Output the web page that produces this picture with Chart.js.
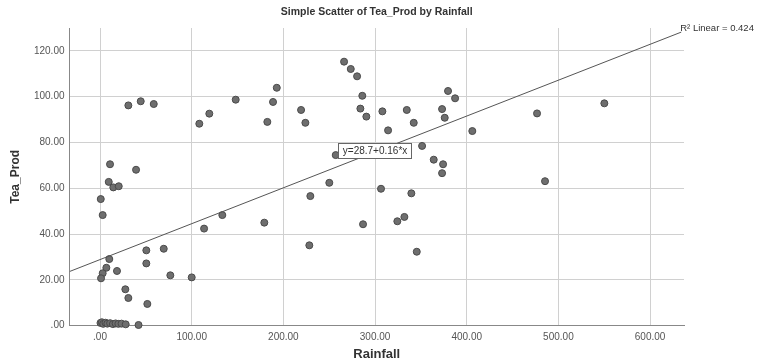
<!DOCTYPE html>
<html>
<head>
<meta charset="utf-8">
<title>Simple Scatter of Tea_Prod by Rainfall</title>
<script src="https://cdn.jsdelivr.net/npm/chart.js@4.4.1/dist/chart.umd.min.js"></script>
<style>
    html, body { margin: 0; padding: 0; background: #ffffff; }
    #wrap { width: 760px; height: 364px; }
</style>
</head>
<body>
<div id="wrap"><canvas id="scatterChart" width="760" height="364"></canvas></div>
<script>
// Data
const rainfall = [
    10.9, 39.3, 9.5, 14.5, 20.4, 0.8, 2.9, 133.4, 113.5, 50.5, 69.5, 10.1, 50.5, 6.9, 2.9, 1.1, 18.5, 76.7, 100, 27.6, 30.9, 51.6,
    30.9, 44.4, 58.6, 108.3, 119.2, 148, 182.5, 188.7, 192.8, 219.3, 224,
    266.2, 273.5, 280.4, 286.1, 284, 290.5, 308, 334.6, 342.2, 314.2, 379.6, 387.3, 373.1, 376, 406.1, 351.3, 257.1, 364, 374.2, 373.1,
    250.1, 229.4, 306.5, 339.6,
    179.2, 286.9, 324.3, 332, 228.3, 345.5,
    476.7, 550.1, 485.4,
    0.5, 2, 3.5, 6, 8, 11, 14, 17, 20, 23.5, 28, 42
];
const teaProd = [
    70.5, 68.1, 62.8, 60.4, 60.9, 55.3, 48.3, 48.3, 42.4, 32.9, 33.6, 29.1, 27.2, 25.3, 22.9, 20.7, 23.9, 22.0, 21.1, 15.9, 12.1, 9.5,
    96.2, 98.0, 96.8, 88.2, 92.6, 98.7, 89.0, 97.7, 103.9, 94.2, 88.6,
    115.3, 112.1, 108.9, 100.4, 94.8, 91.3, 93.6, 94.2, 88.6, 85.3, 102.5, 99.3, 94.6, 90.8, 85.0, 78.5, 74.5, 72.5, 70.5, 66.6,
    62.4, 56.6, 59.8, 57.8,
    45.0, 44.3, 45.6, 47.5, 35.1, 32.3,
    92.7, 97.1, 63.1,
    1.2, 1.5, 0.8, 1.3, 0.9, 1.1, 0.7, 1.0, 0.8, 0.9, 0.6, 0.3
];

// Fit line end points and labels
const fitX = [-33, 634];
const fitY = [23.7, 128.2];
const fitEquation = "y=28.7+0.16*x";
const fitEquationAt = [300, 76.5];
const rSquaredText = "R\u00B2 Linear = 0.424";

// Axis ticks
const xTicks = [0, 100, 200, 300, 400, 500, 600];
const yTicks = [0, 20, 40, 60, 80, 100, 120];

const chartTitle = "Simple Scatter of Tea_Prod by Rainfall";
const xTitle = "Rainfall";
const yTitle = "Tea_Prod";

const FONT = "'Liberation Sans', Arial, sans-serif";

function fmtTick(v) {
    return v === 0 ? ".00" : v.toFixed(2);
}

// Titles, equation box and R² label
const labelsPlugin = {
    id: "labelsPlugin",
    afterDatasetsDraw(chart) {
        const { ctx, scales: { x, y } } = chart;
        ctx.save();

        // equation box
        const cx = x.getPixelForValue(fitEquationAt[0]);
        const cy = y.getPixelForValue(fitEquationAt[1]);
        ctx.font = "10px " + FONT;
        const w = ctx.measureText(fitEquation).width + 9;
        const h = 15;
        ctx.fillStyle = "#ffffff";
        ctx.fillRect(Math.round(cx - w / 2) + 0.5, Math.round(cy - h / 2) + 0.5, Math.round(w), h);
        ctx.strokeStyle = "#666666";
        ctx.lineWidth = 1;
        ctx.strokeRect(Math.round(cx - w / 2) + 0.5, Math.round(cy - h / 2) + 0.5, Math.round(w), h);
        ctx.fillStyle = "#333333";
        ctx.textAlign = "center";
        ctx.textBaseline = "middle";
        ctx.fillText(fitEquation, cx, cy + 1);

        // R² label at end of fit line
        const ex = x.getPixelForValue(fitX[1]);
        const ey = y.getPixelForValue(fitY[1]);
        ctx.font = "9.5px " + FONT;
        ctx.textAlign = "left";
        ctx.fillText(rSquaredText, ex - 1, ey - 4);

        ctx.restore();
    },
    afterDraw(chart) {
        const { ctx, chartArea } = chart;
        const mid = (chartArea.left + chartArea.right) / 2;
        ctx.save();
        ctx.fillStyle = "#333333";
        ctx.textAlign = "center";
        ctx.textBaseline = "middle";

        ctx.font = "bold 10.5px " + FONT;
        ctx.fillText(chartTitle, mid, 12);

        ctx.font = "bold 13px " + FONT;
        ctx.fillText(xTitle, mid, 354);

        ctx.font = "bold 12px " + FONT;
        ctx.translate(16, (chartArea.top + chartArea.bottom) / 2);
        ctx.rotate(-Math.PI / 2);
        ctx.fillText(yTitle, 0, 0);
        ctx.restore();
    }
};

const points = rainfall.map((r, i) => ({ x: r, y: teaProd[i] }));
const fitLine = fitX.map((r, i) => ({ x: r, y: fitY[i] }));

new Chart(document.getElementById("scatterChart"), {
    type: "scatter",
    data: {
        datasets: [
            {
                type: "line",
                label: "Fit",
                data: fitLine,
                borderColor: "#555555",
                borderWidth: 1,
                pointRadius: 0,
                fill: false,
                order: 0
            },
            {
                label: "Tea_Prod",
                data: points,
                pointRadius: 3.5,
                pointHoverRadius: 3.5,
                pointBackgroundColor: "#6e6e6e",
                pointBorderColor: "#4a4a4a",
                pointBorderWidth: 1,
                clip: false,
                order: 1
            }
        ]
    },
    options: {
        responsive: false,
        animation: false,
        layout: { padding: { top: 28, right: 76, bottom: 0, left: 0 } },
        plugins: {
            legend: { display: false },
            tooltip: { enabled: false }
        },
        scales: {
            x: {
                type: "linear",
                min: -33.3,
                max: 637,
                afterBuildTicks: s => { s.ticks = xTicks.map(v => ({ value: v })); },
                afterFit: s => { s.height = 38.3; },
                ticks: {
                    callback: v => fmtTick(v),
                    font: { family: FONT, size: 10 },
                    color: "#555555",
                    padding: 6,
                    maxRotation: 0
                },
                grid: { color: "#d0d0d0", drawTicks: false },
                border: { color: "#888888" }
            },
            y: {
                type: "linear",
                min: 0,
                max: 130,
                afterBuildTicks: s => { s.ticks = yTicks.map(v => ({ value: v })); },
                afterFit: s => { s.width = 69.5; },
                ticks: {
                    callback: v => fmtTick(v),
                    font: { family: FONT, size: 10 },
                    color: "#555555",
                    padding: 5
                },
                grid: { color: "#d0d0d0", drawTicks: false },
                border: { color: "#888888" }
            }
        }
    },
    plugins: [labelsPlugin]
});
</script>
</body>
</html>
